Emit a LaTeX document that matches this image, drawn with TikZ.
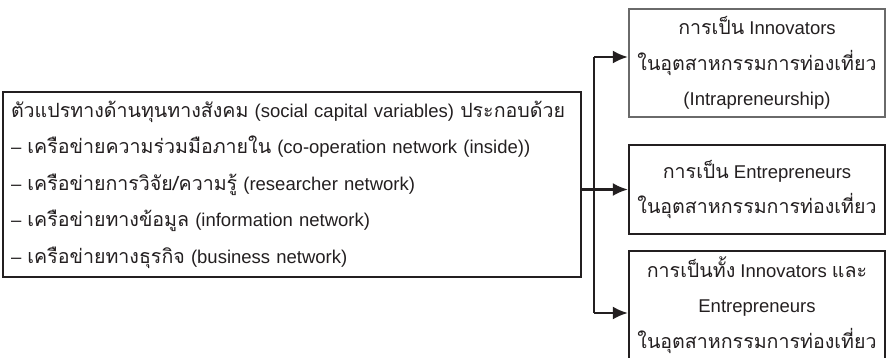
\documentclass[tikz,border=0pt]{standalone}
\usepackage{fontspec}
\setmainfont{Liberation Sans}
\newfontfamily\thaifont[Script=Thai,Scale=1.06]{Loma}
\usetikzlibrary{arrows.meta}
\definecolor{ink}{HTML}{231F20}
\definecolor{boxgray}{HTML}{6A6A6A}
\begin{document}
\begin{tikzpicture}[x=1pt,y=1pt]
  \tikzset{ outcome/.style={draw=ink,line width=2.3pt,minimum width=256pt,minimum height=108pt,
      align=center,text=ink,font=\fontsize{18.5}{35.5}\selectfont},
    link/.style={ink,line width=2.3pt,-{Latex[length=15pt,width=13pt]}},
  }
  \useasboundingbox (0,0) rectangle (886,-357);
  \clip (0,0) rectangle (886,-357);

  \node[draw=ink,line width=2.3pt,minimum width=578pt,minimum height=185pt,text width=562pt,
    inner xsep=8pt,align=left,text=ink,font=\fontsize{18.5}{36.5}\selectfont] (social) at (292,-184.5)
    {{\thaifont ตัวแปรทางด้านทุนทางสังคม} (social capital variables) {\thaifont ประกอบด้วย}\\
     -- {\thaifont เครือข่ายความร่วมมือภายใน} (co-operation network (inside))\\
     -- {\thaifont เครือข่ายการวิจัย/ความรู้} (researcher network)\\
     -- {\thaifont เครือข่ายทางข้อมูล} (information network)\\
     -- {\thaifont เครือข่ายทางธุรกิจ} (business network)};

  \node[outcome,draw=boxgray] (intra) at (757,-63)
    {{\thaifont การเป็น} Innovators\\ {\thaifont ในอุตสาหกรรมการท่องเที่ยว}\\ (Intrapreneurship)};
  \node[outcome,minimum height=89pt] (entre) at (757,-189.5)
    {{\thaifont การเป็น} Entrepreneurs\\ {\thaifont ในอุตสาหกรรมการท่องเที่ยว}};
  \node[outcome] (both) at (757,-305)
    {{\thaifont การเป็นทั้ง} Innovators {\thaifont และ}\\ Entrepreneurs\\ {\thaifont ในอุตสาหกรรมการท่องเที่ยว}};

  \coordinate (up) at (594,-57);
  \coordinate (down) at (594,-313);

  \draw[ink,line width=2.3pt] (up) -- (down);
  \draw[link] (up) -- (up -| intra.west);
  \draw[link] (social.east |- entre.west) -- (entre.west);
  \draw[link] (down) -- (down -| both.west);

\end{tikzpicture}
\end{document}
